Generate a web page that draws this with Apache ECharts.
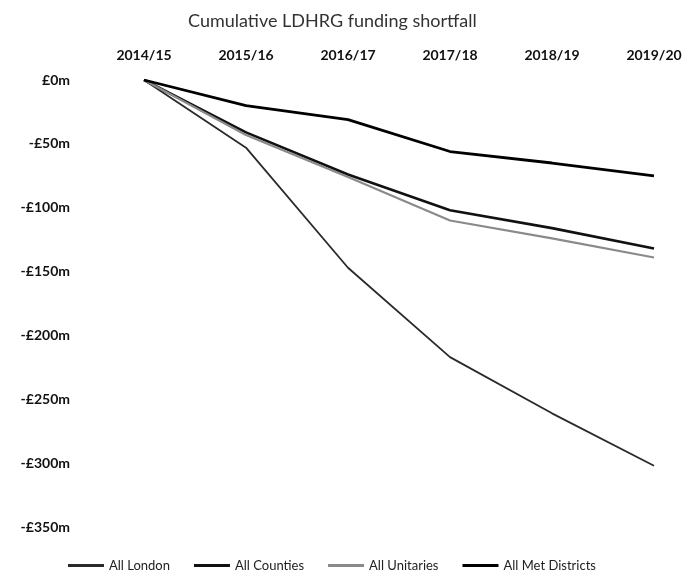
<!DOCTYPE html>
<html>
<head>
<meta charset="utf-8">
<title>Cumulative LDHRG funding shortfall</title>
<script src="https://cdn.jsdelivr.net/npm/echarts@6/dist/echarts.min.js"></script>
<style>
  html, body { margin: 0; padding: 0; background: #ffffff; }
  #chart { width: 687px; height: 584px; }
</style>
</head>
<body>
<div id="chart"></div>
<script>
// Financial years along the top axis
const years = ['2014/15', '2015/16', '2016/17', '2017/18', '2018/19', '2019/20'];

// Cumulative shortfall, £m
const allLondon       = [0, -53, -147, -217, -261, -302];
const allCounties     = [0, -41, -74, -102, -116, -132];
const allUnitaries    = [0, -43, -76, -110, -124, -139];
const allMetDistricts = [0, -20, -31, -56, -65, -75];

// Value-axis ticks and their labels
const yTicks = [0, -50, -100, -150, -200, -250, -300, -350];
const yTickLabels = ['£0m', '-£50m', '-£100m', '-£150m', '-£200m', '-£250m', '-£300m', '-£350m'];

const seriesNames = ['All London', 'All Counties', 'All Unitaries', 'All Met Districts'];
const seriesData = [allLondon, allCounties, allUnitaries, allMetDistricts];
const lineColors = ['#2a2a2a', '#111111', '#8a8a8a', '#000000'];
const lineWidths = [1.8, 2.6, 2.2, 2.8];

const font = 'Lato, "Open Sans", sans-serif';

const chart = echarts.init(document.getElementById('chart'));
chart.setOption({
  animation: false,
  backgroundColor: '#ffffff',
  title: {
    text: 'Cumulative LDHRG funding shortfall',
    left: 183,
    top: 7,
    textStyle: { fontFamily: font, fontSize: 18, fontWeight: 'normal', color: '#333333' }
  },
  legend: {
    bottom: 7,
    left: 63,
    itemWidth: 36,
    itemHeight: 3,
    itemGap: 24,
    icon: 'rect',
    data: seriesNames,
    textStyle: { fontFamily: font, fontSize: 13, color: '#222222' }
  },
  grid: { left: 144, right: 33, top: 80, bottom: 57 },
  xAxis: {
    type: 'category',
    position: 'top',
    boundaryGap: false,
    data: years,
    axisLine: { show: false },
    axisTick: { show: false },
    splitLine: { show: false },
    axisLabel: { margin: 18, fontFamily: font, fontSize: 14, color: '#111111', fontWeight: 'bold' }
  },
  yAxis: {
    type: 'value',
    min: -350,
    max: 0,
    interval: 50,
    axisLine: { show: false },
    axisTick: { show: false },
    splitLine: { show: false },
    axisLabel: {
      margin: 74,
      fontFamily: font,
      fontSize: 14,
      color: '#111111',
      fontWeight: 'bold',
      formatter: function (v) {
        const i = yTicks.indexOf(v);
        return i >= 0 ? yTickLabels[i] : '';
      }
    }
  },
  series: seriesNames.map(function (name, i) {
    return {
      name: name,
      type: 'line',
      data: seriesData[i],
      showSymbol: false,
      symbol: 'none',
      smooth: false,
      color: lineColors[i],
      lineStyle: { color: lineColors[i], width: lineWidths[i] }
    };
  })
});
</script>
</body>
</html>
